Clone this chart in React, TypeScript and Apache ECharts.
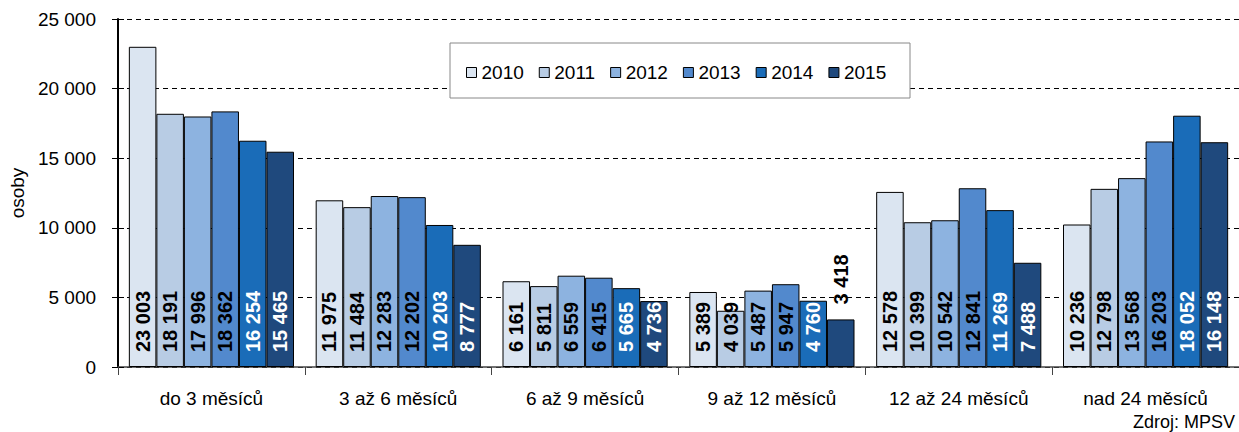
import React, { useEffect, useRef } from "react";
import * as echarts from "echarts";

const categories = ["do 3 měsíců", "3 až 6 měsíců", "6 až 9 měsíců", "9 až 12 měsíců", "12 až 24 měsíců", "nad 24 měsíců"];
const years = ["2010", "2011", "2012", "2013", "2014", "2015"];
const v2010 = [23003, 11975, 6161, 5389, 12578, 10236];
const v2011 = [18191, 11484, 5811, 4039, 10399, 12798];
const v2012 = [17996, 12283, 6559, 5487, 10542, 13568];
const v2013 = [18362, 12202, 6415, 5947, 12841, 16203];
const v2014 = [16254, 10203, 5665, 4760, 11269, 18052];
const v2015 = [15465, 8777, 4736, 3418, 7488, 16148];
const yTicks = [0, 5000, 10000, 15000, 20000, 25000];

const colors = ["#dbe5f1", "#b8cce4", "#8db3e0", "#5289cd", "#1a6cb8", "#1f497d"];
const labelColors = ["#000", "#000", "#000", "#000", "#fff", "#fff"];
const FONT = "'Liberation Sans', Arial, sans-serif";

const fmt = (n: number) => String(n).replace(/\B(?=(\d{3})+(?!\d))/g, " ");

export default function App() {
  const ref = useRef<HTMLDivElement>(null);
  useEffect(() => {
    if (!ref.current) return;
    const chart = echarts.init(ref.current, null, { renderer: "svg" });
    const all = [v2010, v2011, v2012, v2013, v2014, v2015];
    const series = all.map((vals, i) => ({
      name: years[i],
      type: "bar",
      barGap: "0%",
      barCategoryGap: "11.6%",
      itemStyle: { color: colors[i], borderColor: "#000", borderWidth: 1 },
      label: {
        show: true,
        position: "insideBottom",
        rotate: 90,
        align: "left",
        verticalAlign: "middle",
        distance: 15,
        color: labelColors[i],
        fontFamily: FONT,
        fontWeight: "bold",
        fontSize: 20,
        formatter: (p: any) => fmt(p.value),
      },
      data: vals.map((v) =>
        v < 4000
          ? { value: v, label: { position: "top", color: "#000", distance: 15 } }
          : v
      ),
    }));
    chart.setOption({
      animation: false,
      textStyle: { fontFamily: FONT },
      grid: { left: 115, top: 19, width: 1133, bottom: 65, containLabel: false },
      legend: {
        data: years,
        left: 466,
        top: 63,
        icon: "rect",
        itemWidth: 10,
        itemHeight: 10,
        itemGap: 15,
        padding: 0,
        itemStyle: { borderColor: "#000", borderWidth: 1 },
        textStyle: { fontFamily: FONT, fontSize: 19, color: "#000" },
        z: 10,
      },
      graphic: [
        {
          type: "rect",
          z: 5,
          shape: { x: 450, y: 43, width: 460, height: 55 },
          style: { fill: "#fff", stroke: "#888", lineWidth: 1 },
        },
        {
          type: "text",
          right: 4,
          top: 413,
          style: { text: "Zdroj: MPSV", fontFamily: FONT, fontSize: 18, fill: "#000" },
        },
      ],
      xAxis: {
        type: "category",
        data: categories,
        axisLine: { lineStyle: { color: "#444", width: 1.5 } },
        axisTick: { show: true, length: 8, lineStyle: { color: "#444" } },
        axisLabel: { fontFamily: FONT, fontSize: 19, color: "#000", margin: 22 },
      },
      yAxis: [
        {
          type: "value",
          min: yTicks[0],
          max: yTicks[yTicks.length - 1],
          interval: 5000,
          name: "osoby",
          nameLocation: "middle",
          nameGap: 90,
          nameTextStyle: { fontFamily: FONT, fontSize: 19, color: "#000" },
          axisLine: { show: true, lineStyle: { color: "#000", width: 2 } },
          axisTick: { show: true, length: 6, lineStyle: { color: "#000" } },
          axisLabel: { fontFamily: FONT, fontSize: 19, color: "#000", margin: 22, formatter: (v: number) => fmt(v) },
          splitLine: { show: true, lineStyle: { color: "#000", type: [5, 4], width: 1 } },
        },
        {
          type: "value",
          position: "left",
          min: yTicks[0],
          max: yTicks[yTicks.length - 1],
          interval: 5000,
          axisLine: { show: false },
          axisTick: { show: true, inside: true, length: 6, lineStyle: { color: "#000" } },
          axisLabel: { show: false },
          splitLine: { show: false },
        },
      ],
      series,
    });
    return () => chart.dispose();
  }, []);
  return <div ref={ref} style={{ position: "absolute", left: 0, top: 0, width: 1239, height: 432 }} />;
}
